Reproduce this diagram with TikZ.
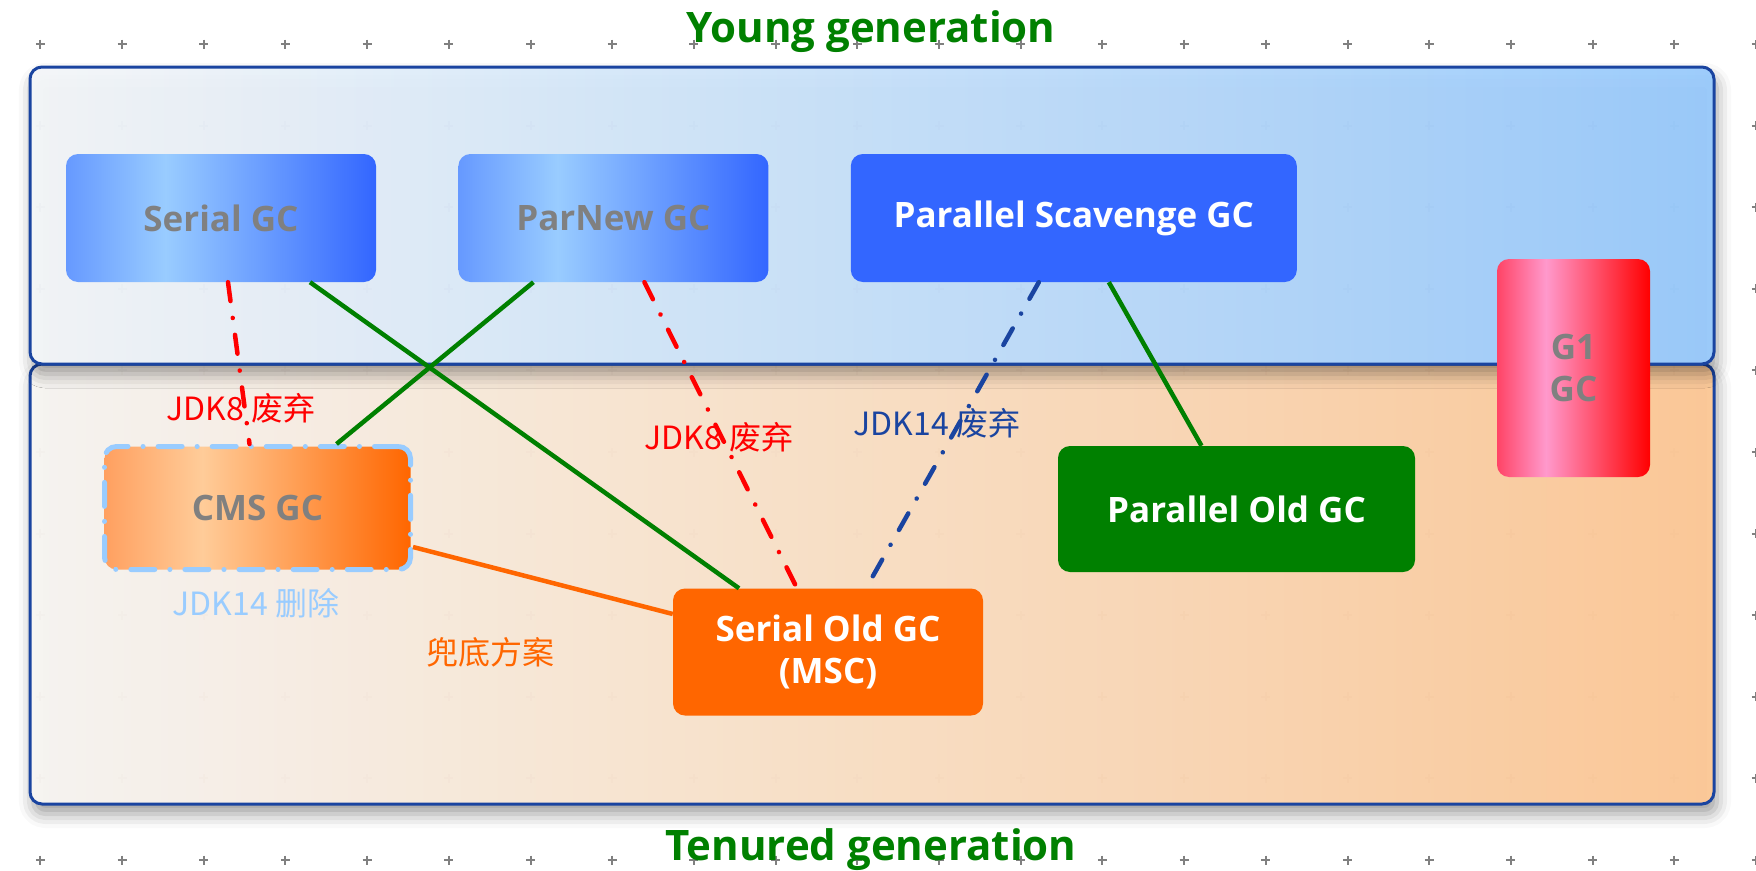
\documentclass[tikz,border=0pt]{standalone}
\usepackage{fontspec}
\setmainfont{Open Sans}
\newfontfamily\cjkfont{Noto Sans CJK SC}
\usetikzlibrary{positioning,shadows.blur}
\definecolor{genborder}{HTML}{1A44A0}
\definecolor{gcgray}{HTML}{808080}
\definecolor{gcgreen}{HTML}{008000}
\definecolor{gcorange}{HTML}{FF6600}
\definecolor{gclight}{HTML}{99CCFF}
\definecolor{gcblue}{HTML}{3366FF}
\definecolor{blueA}{HTML}{6699FF}
\definecolor{pinkA}{HTML}{FF4466}
\definecolor{pinkB}{HTML}{FF99CC}
\definecolor{orangeA}{HTML}{FFA060}
\definecolor{orangeB}{HTML}{FFCC99}
\pgfdeclarehorizontalshading{blueshade}{100bp}{color(0bp)=(blueA); color(25bp)=(blueA); color(41bp)=(gclight); color(75bp)=(gcblue); color(100bp)=(gcblue)}
\pgfdeclarehorizontalshading{pinkshade}{100bp}{color(0bp)=(pinkA); color(25bp)=(pinkA); color(41bp)=(pinkB); color(75bp)=(red); color(100bp)=(red)}
\pgfdeclarehorizontalshading{orangeshade}{100bp}{color(0bp)=(orangeA); color(25bp)=(orangeA); color(41bp)=(orangeB); color(75bp)=(gcorange); color(100bp)=(gcorange)}
\tikzset{
	%Define style for the two generation areas
	genbox/.style={
		rectangle,
		rounded corners=12pt,
		draw=genborder, line width=3pt,
		fill opacity=0.96,
		blur shadow={shadow xshift=3pt, shadow yshift=-10pt,
			shadow blur radius=14pt, shadow opacity=40}},
	%Define style for collector boxes
	gcbox/.style={
		rectangle,
		rounded corners=12pt,
		minimum width=310pt,
		minimum height=128pt,
		font=\bfseries\fontsize{35}{42}\selectfont,
		align=center},
	%Define style for the small texts
	jdklabel/.style={
		font=\cjkfont\fontsize{32}{38}\selectfont,
		inner sep=0pt},
	gentitle/.style={
		font=\bfseries\fontsize{42}{48}\selectfont,
		text=gcgreen, inner sep=0pt, anchor=base},
	gridmark/.style={draw=gcgray, line width=2pt},
	solidlink/.style={line width=4.5pt},
	droplink/.style={line width=4.5pt, line cap=round,
		dash pattern=on 19pt off 17pt on 0.1pt off 17pt}
}

\begin{document}
\begin{tikzpicture}[x=1pt, y=-1pt, node distance=82pt]
	\useasboundingbox (0,0) rectangle (1756,870);
	% grid of the drawing sheet
	\foreach \i in {0,...,21}
		\foreach \j in {0,...,10}
			\draw[gridmark] ({40.3+81.7*\i-4.5},{44+81.6*\j}) -- +(9,0)
				({40.3+81.7*\i},{44+81.6*\j-4.5}) -- +(0,9);
	% generations
	\node[genbox, left color={rgb,255:red,250;green,247;blue,244}, right color={rgb,255:red,255;green,202;blue,152},
		minimum width=1684pt, minimum height=440pt] (tenured) at (872,584) {};
	\node[genbox, left color={rgb,255:red,245;green,247;blue,250}, right color={rgb,255:red,154;green,203;blue,253},
		minimum width=1684pt, minimum height=297pt] (young) at (872,215.5) {};
	\node[gentitle] (youngtitle) at (871,42) {Young generation};
	\node[gentitle] (tenuredtitle) at (871,860) {Tenured generation};
	% collectors
	\node[gcbox, shading=blueshade, text=gcgray] (serial) at (221,218) {Serial GC};
	\node[gcbox, shading=blueshade, text=gcgray, right=of serial] (parnew) {ParNew GC};
	\node[gcbox, fill=gcblue, text=white, minimum width=446pt, right=of parnew] (scavenge) {Parallel Scavenge GC};
	\node[gcbox, shading=pinkshade, text=gcgray, minimum width=153pt, minimum height=218pt] (g1) at (1573.5,368) {G1\\GC};
	\node[gcbox, shading=orangeshade, text=gcgray, draw=gclight, line width=5pt, line cap=round,
		dash pattern=on 24pt off 15pt on 0.1pt off 15pt, minimum width=306pt, minimum height=123pt] (cms) at (257.5,508) {CMS GC};
	\node[gcbox, fill=gcgreen, text=white, minimum width=357pt, minimum height=126pt] (parold) at (1236.5,509) {Parallel Old GC};
	\node[gcbox, fill=gcorange, text=white, minimum height=127pt] (serialold) at (828,652) {Serial Old GC\\(MSC)};
	% labels
	\node[jdklabel, text=red] (drop8a) at (241,408) {JDK8 废弃};
	\node[jdklabel, text=red] (drop8b) at (719,437) {JDK8 废弃};
	\node[jdklabel, text=genborder] (drop14) at (937,423) {JDK14 废弃};
	\node[jdklabel, text=gclight] (removed) at (256,603) {JDK14 删除};
	\node[jdklabel, text=gcorange] (fallback) at (490,652) {兜底方案};
	% combinations
	\draw[droplink, red] ([xshift=7pt]serial.south) -- ([xshift=-8pt]cms.north);
	\draw[solidlink, gcgreen] ([xshift=89pt]serial.south) -- ([xshift=-89pt]serialold.north);
	\draw[solidlink, gcgreen] ([xshift=-80pt]parnew.south) -- ([xshift=79pt]cms.north);
	\draw[droplink, red] ([xshift=31pt]parnew.south) -- ([xshift=-31pt]serialold.north);
	\draw[droplink, genborder] ([xshift=-35pt]scavenge.south) -- ([xshift=38pt]serialold.north);
	\draw[solidlink, gcgreen] ([xshift=35pt]scavenge.south) -- ([xshift=-35pt]parold.north);
	\draw[solidlink, gcorange] ([yshift=-39pt]cms.east) -- ([yshift=38pt]serialold.west);
\end{tikzpicture}
\end{document}
